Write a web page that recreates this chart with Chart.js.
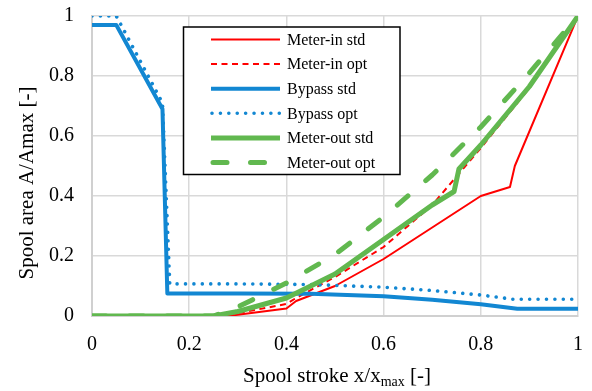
<!DOCTYPE html>
<html>
<head>
<meta charset="utf-8">
<script src="https://cdn.jsdelivr.net/npm/chart.js@4/dist/chart.umd.min.js"></script>
<style>
html,body{margin:0;padding:0;background:#fff;}
#wrap{width:592px;height:391px;position:relative;}
</style>
</head>
<body>
<div id="wrap"><canvas id="c" width="592" height="391"></canvas></div>
<script>
// ---- Data ----
const seriesNames = ["Meter-in std","Meter-in opt","Bypass std","Bypass opt","Meter-out std","Meter-out opt"];

const meterInStdX = [0, 0.28, 0.4, 0.42, 0.5, 0.6, 0.7, 0.8, 0.86, 0.87, 1];
const meterInStdY = [0, 0, 0.025, 0.05, 0.1, 0.19, 0.295, 0.4, 0.43, 0.5, 1];

const meterInOptX = [0, 0.27, 0.4, 0.42, 0.5, 0.6, 0.7, 0.8, 0.9, 1];
const meterInOptY = [0, 0, 0.04, 0.06, 0.13, 0.23, 0.37, 0.56, 0.76, 1];

const bypassStdX = [0, 0.05, 0.145, 0.155, 0.3, 0.45, 0.6, 0.7, 0.8, 0.875, 1];
const bypassStdY = [0.97, 0.97, 0.69, 0.075, 0.075, 0.074, 0.066, 0.054, 0.039, 0.024, 0.024];

const bypassOptX = [0, 0.05, 0.145, 0.16, 0.3, 0.45, 0.6, 0.7, 0.8, 0.865, 1];
const bypassOptY = [1, 1, 0.71, 0.107, 0.107, 0.105, 0.096, 0.085, 0.07, 0.056, 0.056];

const meterOutStdX = [0, 0.25, 0.3, 0.4, 0.5, 0.6, 0.7, 0.745, 0.755, 0.8, 0.9, 1];
const meterOutStdY = [0, 0, 0.015, 0.06, 0.14, 0.255, 0.37, 0.415, 0.49, 0.57, 0.765, 1];

const meterOutOptX = [0, 0.25, 0.3, 0.4, 0.5, 0.6, 0.7, 0.8, 0.9, 1];
const meterOutOptY = [0, 0, 0.03, 0.11, 0.205, 0.33, 0.47, 0.63, 0.81, 1];

const axisTicks = [0, 0.2, 0.4, 0.6, 0.8, 1];
const axisTickLabels = ["0", "0.2", "0.4", "0.6", "0.8", "1"];
const yTitle = "Spool area A/Amax [-]";
const xTitleMain = "Spool stroke x/x";
const xTitleSub = "max";
const xTitleEnd = " [-]";

// ---- Styles ----
const RED = "#ff0000", BLUE = "#1287d2", GREEN = "#61b84f";
const FONT = '"Liberation Serif", "Times New Roman", serif';
Chart.defaults.font.family = FONT;

function pts(xs, ys){ return xs.map((x,i)=>({x:x, y:ys[i]})); }

const datasets = [
  {label: seriesNames[0], data: pts(meterInStdX, meterInStdY), borderColor: RED, borderWidth: 2, order: 6},
  {label: seriesNames[1], data: pts(meterInOptX, meterInOptY), borderColor: RED, borderWidth: 2, borderDash: [6, 4.5], order: 5},
  {label: seriesNames[2], data: pts(bypassStdX, bypassStdY), borderColor: BLUE, borderWidth: 4, order: 4},
  {label: seriesNames[3], data: pts(bypassOptX, bypassOptY), borderColor: BLUE, borderWidth: 3.6, borderDash: [0.01, 8.4], borderCapStyle: 'round', order: 3},
  {label: seriesNames[4], data: pts(meterOutStdX, meterOutStdY), borderColor: GREEN, borderWidth: 5, order: 2},
  {label: seriesNames[5], data: pts(meterOutOptX, meterOutOptY), borderColor: GREEN, borderWidth: 5, borderDash: [14, 23.5], borderCapStyle: 'round', order: 1}
];
datasets.forEach(d => { d.pointRadius = 0; d.fill = false; d.tension = 0; d.borderJoinStyle = 'round'; });

const boxLegend = {
  id: 'boxLegend',
  afterDraw(chart){
    const ctx = chart.ctx;
    ctx.save();
    const bx = 183.5, by = 27, bw = 216.5, bh = 147.5;
    ctx.fillStyle = '#fff';
    ctx.fillRect(bx, by, bw, bh);
    ctx.strokeStyle = '#000';
    ctx.lineWidth = 1.5;
    ctx.setLineDash([]);
    ctx.strokeRect(bx, by, bw, bh);
    const rowY0 = 39.5, rowStep = 24.6;
    chart.data.datasets.forEach((d, i) => {
      const y = rowY0 + i * rowStep;
      ctx.beginPath();
      ctx.strokeStyle = d.borderColor;
      ctx.lineWidth = d.borderWidth;
      ctx.lineCap = d.borderCapStyle || 'butt';
      ctx.setLineDash(d.borderDash || []);
      if (i === 5) { ctx.moveTo(213, y); ctx.lineTo(280, y); }
      else if (i === 3) { ctx.moveTo(212, y); ctx.lineTo(281, y); }
      else { ctx.moveTo(211, y); ctx.lineTo(280, y); }
      ctx.stroke();
      ctx.setLineDash([]);
      ctx.fillStyle = '#000';
      ctx.font = "16px " + FONT;
      ctx.textAlign = 'left';
      ctx.textBaseline = 'middle';
      ctx.fillText(d.label, 287, y + 1);
    });
    ctx.fillStyle = '#000';
    ctx.save();
    ctx.translate(27, 183);
    ctx.rotate(-Math.PI/2);
    ctx.font = "21px " + FONT;
    ctx.textAlign = 'center';
    ctx.textBaseline = 'middle';
    ctx.fillText(yTitle, 0, 0);
    ctx.restore();

    ctx.textBaseline = 'alphabetic';
    ctx.textAlign = 'left';
    const mainFont = "21px " + FONT, subFont = "14px " + FONT;
    ctx.font = mainFont; const w1 = ctx.measureText(xTitleMain).width; const w3 = ctx.measureText(xTitleEnd).width;
    ctx.font = subFont; const w2 = ctx.measureText(xTitleSub).width;
    const total = w1 + w2 + w3;
    let x0 = (chart.chartArea.left + chart.chartArea.right)/2 - total/2 + 2;
    const base = 382;
    ctx.font = mainFont; ctx.fillText(xTitleMain, x0, base);
    ctx.font = subFont; ctx.fillText(xTitleSub, x0 + w1, base + 4);
    ctx.font = mainFont; ctx.fillText(xTitleEnd, x0 + w1 + w2, base);
    ctx.restore();
  }
};

const gridOpts = {color: '#d9d9d9', lineWidth: 1.5, drawTicks: false};
const borderOpts = {color: '#d0d0d0', width: 2};
const tickLabel = (v) => { const i = axisTicks.findIndex(t => Math.abs(t - v) < 1e-9); return i >= 0 ? axisTickLabels[i] : ''; };
const tickFont = {family: 'Liberation Serif', size: 20, style: 'normal', weight: 'normal'};

new Chart(document.getElementById('c'), {
  type: 'line',
  data: {datasets: datasets},
  options: {
    responsive: false,
    animation: false,
    devicePixelRatio: 1,
    layout: {padding: {top: 16, right: 14, left: 0, bottom: 0}},
    plugins: {legend: {display: false}, tooltip: {enabled: false}},
    scales: {
      x: {
        type: 'linear', min: 0, max: 1,
        afterBuildTicks: s => { s.ticks = axisTicks.map(v => ({value: v})); },
        afterFit: s => { s.height = 75; s.paddingLeft = 0; s.paddingRight = 0; },
        ticks: {color: '#000', font: tickFont, padding: 17, maxRotation: 0, callback: tickLabel},
        grid: gridOpts, border: borderOpts
      },
      y: {
        type: 'linear', min: 0, max: 1,
        afterBuildTicks: s => { s.ticks = axisTicks.map(v => ({value: v})); },
        afterFit: s => { s.width = 92; s.paddingTop = 0; s.paddingBottom = 0; },
        ticks: {color: '#000', font: tickFont, padding: 18, callback: tickLabel},
        grid: gridOpts, border: borderOpts
      }
    }
  },
  plugins: [boxLegend]
});
</script>
</body>
</html>
